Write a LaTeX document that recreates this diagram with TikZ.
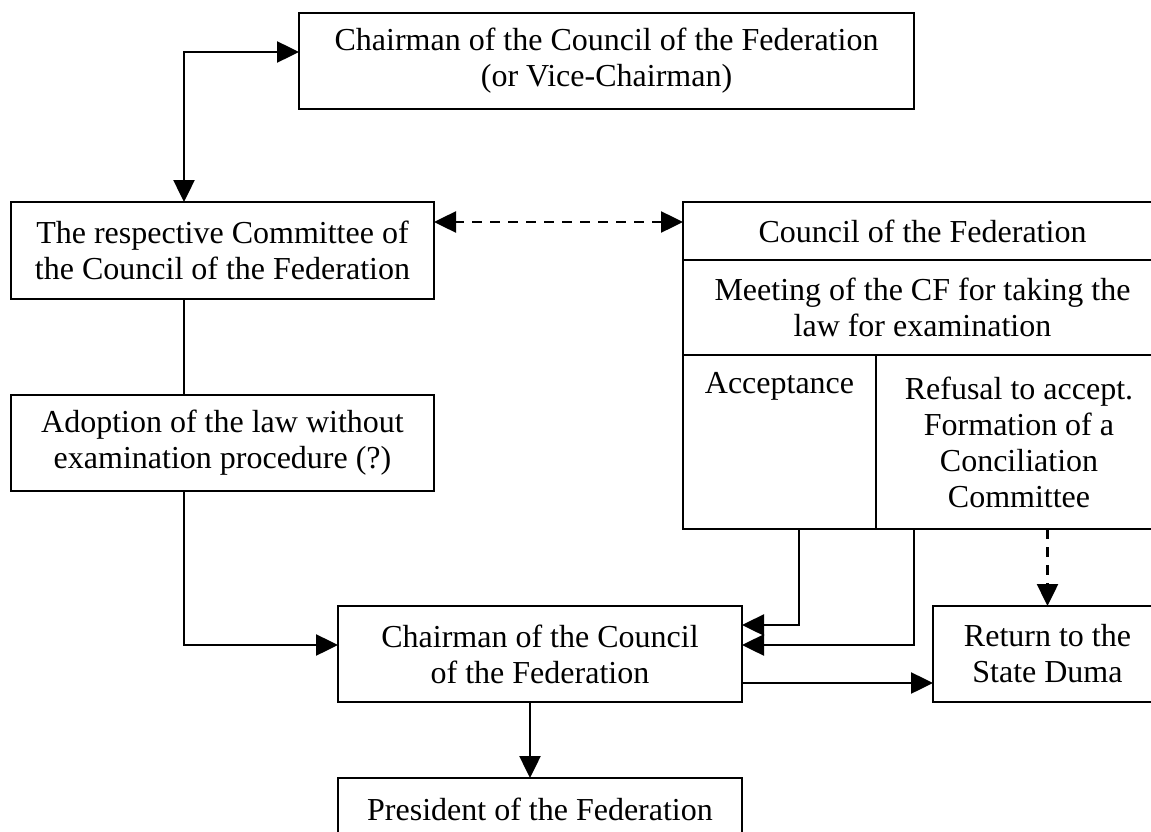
\documentclass[tikz,border=0pt]{standalone}
\usepackage{fontspec}
\setmainfont{Liberation Serif}
\usetikzlibrary{arrows.meta}
\usetikzlibrary{positioning}
\tikzset{box/.style={draw, line width=2.5pt, align=center, inner sep=0pt, outer sep=0pt,
font=\fontsize{32}{36}\selectfont},
link/.style={line width=2.5pt, -{Triangle[length=22pt,width=21pt]}},
twoway/.style={line width=2.5pt, {Triangle[length=22pt,width=21pt]}-{Triangle[length=22pt,width=21pt]}},
dashy/.style={dash pattern=on 10pt off 8pt}}

\begin{document}
\begin{tikzpicture}[x=1pt, y=-1pt]
	\useasboundingbox (0,0) rectangle (1151,832);
	\clip (0,0) rectangle (1151,832);
	% left column
	\node[box, minimum width=615pt, minimum height=96pt] (chairCF) at (606.5,61)
		{Chairman of the Council of the Federation\\ (or Vice-Chairman)};
	\node[box, minimum width=423pt, minimum height=97pt] (committee) at (222.5,250.5)
		{The respective Committee of\\ the Council of the Federation};
	\node[box, minimum width=423pt, minimum height=96pt, below=96pt of committee] (adoption)
		{Adoption of the law without\\ examination procedure (?)};
	\coordinate (spine) at (184,0);
	% right column
	\node[box, minimum width=479pt, minimum height=58pt] (council) at (922.5,231)
		{Council of the Federation};
	\node[box, minimum width=479pt, minimum height=95pt, below=0pt of council] (meeting)
		{Meeting of the CF for taking the\\ law for examination};
	\node[box, minimum width=193pt, minimum height=174pt, below right=0pt of meeting.south west] (accept)
		{Acceptance\\ \strut\\ \strut\\ \strut};
	\node[box, minimum width=286pt, minimum height=174pt, below right=0pt of accept.north east] (refuse)
		{Refusal to accept.\\ Formation of a\\ Conciliation\\ Committee};
	% bottom
	\node[box, minimum width=404pt, minimum height=96pt] (chairman) at (540,654)
		{Chairman of the Council\\ of the Federation};
	\node[box, minimum width=404pt, minimum height=62pt, below=76pt of chairman] (president)
		{President of the Federation};
	\node[box, minimum width=229pt, minimum height=96pt, right=191pt of chairman] (return)
		{Return to the\\ State Duma};
	% connectors
	\draw[twoway] (spine |- committee.north) |- ([yshift=9pt]chairCF.west);
	\draw[twoway, dashy] ([yshift=9pt]council.west) -- ([yshift=9pt]council.west -| committee.east);
	\draw[line width=2.5pt] (spine |- committee.south) -- (spine |- adoption.north);
	\draw[link] (spine |- adoption.south) |- ([yshift=9pt]chairman.west);
	\draw[link] ([xshift=19.5pt]accept.south) |- ([yshift=29pt]chairman.east);
	\draw[link] ([xshift=-105pt]refuse.south) |- ([yshift=9pt]chairman.east);
	\draw[link, dashy] (return.north |- refuse.south) -- (return.north);
	\draw[link] ([yshift=-29pt]chairman.east) -- ([yshift=-29pt]chairman.east -| return.west);
	\draw[link] ([xshift=-10pt]chairman.south) -- ([xshift=-10pt]president.north);
\end{tikzpicture}
\end{document}
